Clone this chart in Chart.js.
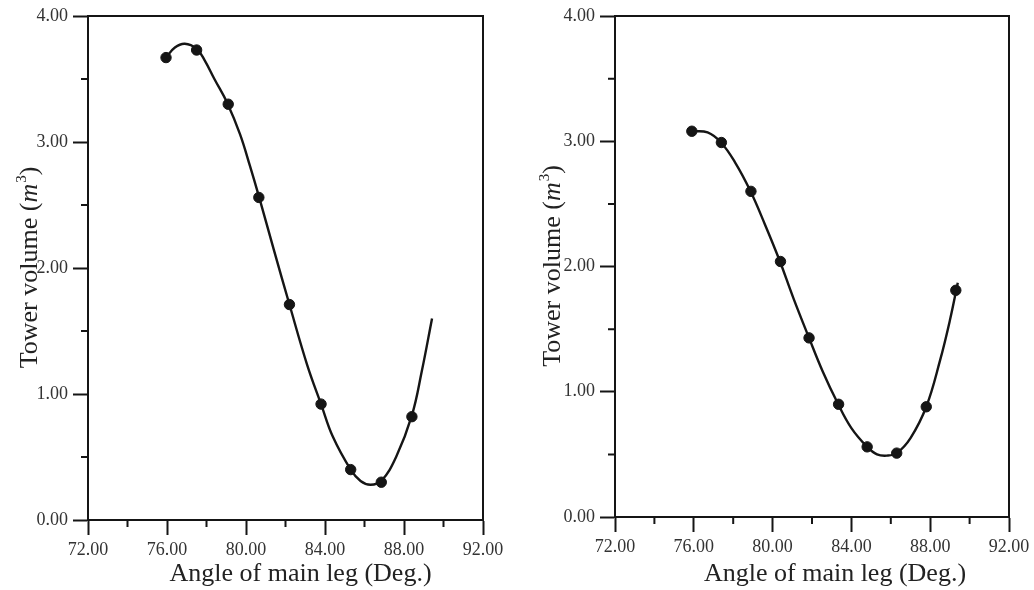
<!DOCTYPE html>
<html>
<head>
<meta charset="utf-8">
<script src="https://cdn.jsdelivr.net/npm/chart.js@4"></script>
<style>
  body { margin: 0; background: #fff; }
  .panel { position: absolute; top: 0; }
</style>
</head>
<body>
<div class="panel" style="left:0"><canvas id="leftChart" width="527" height="590"></canvas></div>
<div class="panel" style="left:527px"><canvas id="rightChart" width="507" height="590"></canvas></div>
<script>
// valores
const xTicks = [72, 76, 80, 84, 88, 92];
const yTicks = [0, 1, 2, 3, 4];
const xMinor = [74, 78, 82, 86, 90];
const yMinor = [0.5, 1.5, 2.5, 3.5];

const leftPointX = [75.95, 77.5, 79.1, 80.65, 82.2, 83.8, 85.3, 86.85, 88.4];
const leftPointY = [3.67, 3.73, 3.30, 2.56, 1.71, 0.92, 0.40, 0.30, 0.82];
const leftCurveX = [75.95, 76.4, 76.9, 77.5, 77.9, 78.4, 79.05, 79.7, 80.2, 80.65, 81.4, 82.2, 83.1, 83.8, 84.4, 85.3, 85.8, 86.3, 86.85, 87.6, 88.4, 88.9, 89.42];
const leftCurveY = [3.67, 3.75, 3.78, 3.74, 3.65, 3.50, 3.31, 3.06, 2.81, 2.57, 2.15, 1.71, 1.23, 0.92, 0.66, 0.40, 0.31, 0.28, 0.31, 0.50, 0.83, 1.18, 1.60];

const rightPointX = [75.9, 77.4, 78.9, 80.4, 81.85, 83.35, 84.8, 86.3, 87.8, 89.3];
const rightPointY = [3.08, 2.99, 2.60, 2.04, 1.43, 0.90, 0.56, 0.51, 0.88, 1.81];
const rightCurveX = [75.9, 76.7, 77.38, 78.1, 78.85, 79.6, 80.35, 81.05, 81.85, 82.55, 83.3, 84.0, 84.8, 85.3, 85.8, 86.3, 87.0, 87.8, 88.5, 89.0, 89.4];
const rightCurveY = [3.08, 3.07, 2.99, 2.83, 2.61, 2.34, 2.05, 1.75, 1.43, 1.16, 0.91, 0.71, 0.56, 0.50, 0.49, 0.51, 0.63, 0.88, 1.25, 1.57, 1.87];

const ink = '#151515';
Chart.defaults.font.family = "'Liberation Serif', 'Times New Roman', serif";
Chart.defaults.color = '#333';

const toXY = (xs, ys) => xs.map((x, i) => ({ x: x, y: ys[i] }));

// marco, ticks menores y titulos de ejes
const framePlugin = {
    id: 'frame',
    afterDraw(chart, args, opts) {
        const ctx = chart.ctx;
        const a = chart.chartArea;
        const xs = chart.scales.x, ys = chart.scales.y;
        ctx.save();
        ctx.strokeStyle = ink;
        ctx.lineWidth = 2;
        ctx.beginPath();
        ctx.moveTo(a.left, a.top);
        ctx.lineTo(a.right, a.top);
        ctx.lineTo(a.right, a.bottom);
        xMinor.forEach(v => {
            const px = xs.getPixelForValue(v);
            ctx.moveTo(px, a.bottom);
            ctx.lineTo(px, a.bottom + 7);
        });
        yMinor.forEach(v => {
            const py = ys.getPixelForValue(v);
            ctx.moveTo(a.left - 7, py);
            ctx.lineTo(a.left, py);
        });
        ctx.stroke();

        // titulo eje x
        ctx.fillStyle = '#222';
        ctx.font = "26px 'Liberation Serif'";
        ctx.textAlign = 'center';
        ctx.textBaseline = 'alphabetic';
        ctx.fillText('Angle of main leg (Deg.)', (a.left + a.right) / 2 + opts.xTitleShift, 581);

        // titulo eje y con m cursiva y exponente
        const parts = [
            { t: 'Tower volume (', f: "26px 'Liberation Serif'", dy: 0 },
            { t: 'm', f: "italic 26px 'Liberation Serif'", dy: 0 },
            { t: '3', f: "15px 'Liberation Serif'", dy: -11 },
            { t: ')', f: "26px 'Liberation Serif'", dy: 0 }
        ];
        let total = 0;
        parts.forEach(p => { ctx.font = p.f; p.w = ctx.measureText(p.t).width; total += p.w; });
        ctx.translate(a.left - opts.yTitleGap, (a.top + a.bottom) / 2);
        ctx.rotate(-Math.PI / 2);
        ctx.textAlign = 'left';
        let cx = -total / 2;
        parts.forEach(p => {
            ctx.font = p.f;
            ctx.fillText(p.t, cx, p.dy);
            cx += p.w + (p.t === 'm' ? 1 : 0);
        });
        ctx.restore();
    }
};

function makeChart(id, pts, curve, pad, xHeight, xTitleShift, yTitleGap) {
    return new Chart(document.getElementById(id), {
        type: 'scatter',
        data: {
            datasets: [{
                data: pts,
                pointRadius: 5.2,
                pointBackgroundColor: ink,
                pointBorderColor: ink,
                order: 0
            }, {
                data: curve,
                showLine: true,
                pointRadius: 0,
                borderColor: ink,
                borderWidth: 2.4,
                tension: 0.4,
                order: 1
            }]
        },
        options: {
            responsive: false,
            animation: false,
            layout: { padding: pad },
            plugins: {
                legend: { display: false },
                tooltip: { enabled: false },
                frame: { xTitleShift: xTitleShift, yTitleGap: yTitleGap }
            },
            scales: {
                x: {
                    type: 'linear',
                    min: 72,
                    max: 92,
                    afterBuildTicks: s => { s.ticks = xTicks.map(v => ({ value: v })); },
                    afterFit: s => { s.height = xHeight; },
                    ticks: {
                        padding: 4,
                        font: { size: 18 },
                        callback: v => v.toFixed(2)
                    },
                    grid: { drawOnChartArea: false, tickLength: 15, tickWidth: 2, tickColor: ink },
                    border: { display: true, color: ink, width: 2 }
                },
                y: {
                    min: 0,
                    max: 4,
                    afterBuildTicks: s => { s.ticks = yTicks.map(v => ({ value: v })); },
                    afterFit: s => { s.width = 88; },
                    ticks: {
                        padding: 5,
                        font: { size: 18 },
                        callback: v => v.toFixed(2)
                    },
                    grid: { drawOnChartArea: false, tickLength: 15, tickWidth: 2, tickColor: ink },
                    border: { display: true, color: ink, width: 2 }
                }
            }
        },
        plugins: [framePlugin]
    });
}

document.addEventListener('DOMContentLoaded', () => {
    makeChart('leftChart', toXY(leftPointX, leftPointY), toXY(leftCurveX, leftCurveY),
        { top: 16, right: 44, left: 0, bottom: 0 }, 70, 15, 51);
    makeChart('rightChart', toXY(rightPointX, rightPointY), toXY(rightCurveX, rightCurveY),
        { top: 16, right: 25, left: 0, bottom: 0 }, 73, 23, 55);
});
</script>
</body>
</html>
